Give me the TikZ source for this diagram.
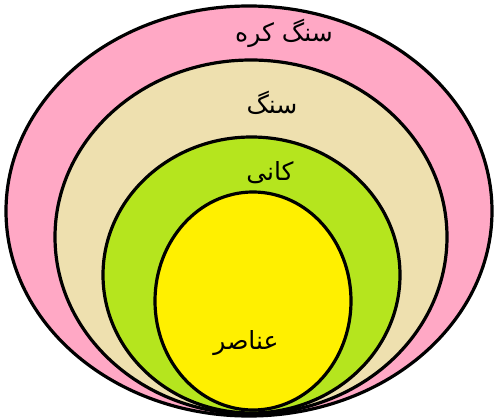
\documentclass[tikz,border=0pt]{standalone}
\usepackage{fontspec}
\newfontfamily\arabicfont[Script=Arabic]{DejaVu Sans}
\TeXXeTstate=1
\usetikzlibrary{shapes.geometric}

\definecolor{spherepink}{RGB}{255,168,197}
\definecolor{rockbeige}{RGB}{238,224,175}
\definecolor{mineralgreen}{RGB}{181,229,30}
\definecolor{elemyellow}{RGB}{255,240,0}

\begin{document}
\begin{tikzpicture}[
    x=1pt, y=-1pt,
    layer/.style={ellipse, draw=black, line width=3.2pt, inner sep=0pt},
    label/.style={font=\arabicfont\fontsize{25}{28}\selectfont, inner sep=0pt}
]
    \useasboundingbox (0,0) rectangle (497,419);

    \node[layer, fill=spherepink, minimum width=486pt, minimum height=410pt]
        (sphere) at (249,211) {};
    \node[layer, fill=rockbeige, minimum width=392pt, minimum height=354pt]
        (rock) at (251,237) {};
    \node[layer, fill=mineralgreen, minimum width=297pt, minimum height=276pt]
        (mineral) at (251.5,275) {};
    \node[layer, fill=elemyellow, minimum width=196pt, minimum height=218pt]
        (elements) at (253,301) {};

    \node[label] (spherelbl)   at (284,33)  {\beginR سنگ کره\endR};
    \node[label] (rocklbl)     at (272,103) {\beginR سنگ\endR};
    \node[label] (minerallbl)  at (270,173) {\beginR کانی\endR};
    \node[label] (elementslbl) at (246,343) {\beginR عناصر\endR};
\end{tikzpicture}
\end{document}
